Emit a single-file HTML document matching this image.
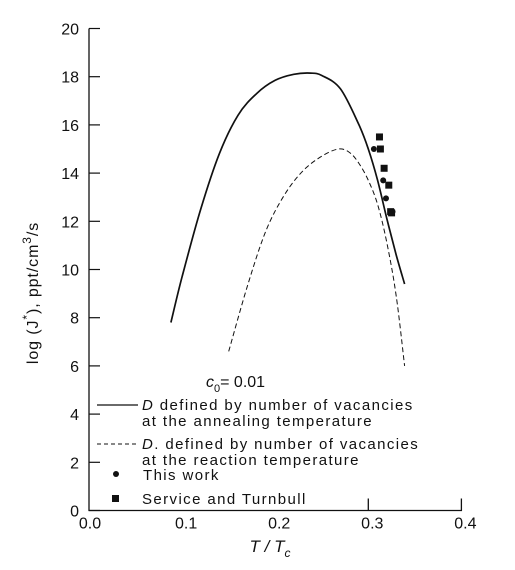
<!DOCTYPE html>
<html><head><meta charset="utf-8"><style>
body{margin:0;background:#fff;}
svg text{font-family:"Liberation Sans",sans-serif;fill:#111;}
</style></head><body>
<svg id="chart" width="515" height="565" viewBox="0 0 515 565" xmlns="http://www.w3.org/2000/svg">
<g id="axes"></g>
<g id="marks"></g>
<text x="206" y="387" font-size="16" font-style="italic">c<tspan font-size="11" dy="5" font-style="normal">0</tspan><tspan dy="-5" font-style="normal">= 0.01</tspan></text>
<g font-size="15" letter-spacing="1.4">
<line x1="97" y1="405" x2="138" y2="405" stroke="#111" stroke-width="1.3"/>
<text x="142" y="410"><tspan font-style="italic">D</tspan> defined by number of vacancies</text>
<text x="142" y="426">at the annealing temperature</text>
<line x1="97" y1="444" x2="138" y2="444" stroke="#111" stroke-width="1" stroke-dasharray="4,3"/>
<text x="142" y="449"><tspan font-style="italic">D</tspan>. defined by number of vacancies</text>
<text x="142" y="465">at the reaction temperature</text>
<circle cx="116" cy="474" r="3" fill="#111"/>
<text x="143" y="480">This work</text>
<rect x="112" y="495" width="7" height="7" fill="#111"/>
<text x="142" y="504">Service and Turnbull</text>
</g>
<text x="270" y="552" font-size="17" font-style="italic" text-anchor="middle">T / T<tspan font-size="12" dy="5">c</tspan></text>
<text transform="translate(38,293) rotate(-90)" font-size="16" letter-spacing="0.9" text-anchor="middle">log (J<tspan font-size="12" dy="-7">*</tspan><tspan dy="7">), ppt/cm</tspan><tspan font-size="12" dy="-7">3</tspan><tspan dy="7">/s</tspan></text>
</svg>
<script>
const yTicks=[0,2,4,6,8,10,12,14,16,18,20];
const xTicks=[0.0,0.1,0.2,0.3,0.4];
const xTickLabels=["0.0","0.1","0.2","0.3","0.4"];
const solidT=[0.088,0.10,0.12,0.14,0.16,0.18,0.20,0.22,0.238,0.25,0.27,0.29,0.30,0.31,0.32,0.33,0.339];
const solidY=[7.8,9.7,12.5,14.8,16.4,17.3,17.85,18.1,18.15,18.05,17.5,16.0,15.0,13.7,12.1,10.6,9.4];
const dashT=[0.150,0.17,0.19,0.21,0.23,0.25,0.268,0.28,0.29,0.30,0.31,0.32,0.33,0.339];
const dashY=[6.6,9.3,11.6,13.1,14.1,14.7,15.0,14.85,14.4,13.7,12.7,11.1,8.9,6.0];
const circT=[0.306,0.316,0.319,0.326];
const circY=[15.0,13.7,12.95,12.4];
const sqT=[0.312,0.313,0.317,0.322,0.324,0.325];
const sqY=[15.5,15.0,14.2,13.5,12.4,12.35];
const X=t=>89+t*931, Y=v=>510.5-v*24.1;
const NS="http://www.w3.org/2000/svg";
const ax=document.getElementById('axes'), mk=document.getElementById('marks');
function mkEl(tag,attrs,parent){const e=document.createElementNS(NS,tag);for(const k in attrs)e.setAttribute(k,attrs[k]);parent.appendChild(e);return e;}
let e=mkEl('path',{d:`M${X(0)},${Y(20)} L${X(0)},${Y(0)} L${X(0.4)},${Y(0)} L${X(0.4)},${Y(0)-12} M${X(0.3)},${Y(0)} L${X(0.3)},${Y(0)-12}`,fill:'none',stroke:'#111','stroke-width':1.3},ax);


yTicks.forEach(v=>{
const tk=mkEl('line',{x1:X(0),x2:X(0)+11,y1:Y(v),y2:Y(v),stroke:'#111','stroke-width':1.2},ax);


const t=mkEl('text',{x:X(0)-10,y:Y(v)+6,'font-size':16,'text-anchor':'end'},ax);t.textContent=v;

});
xTicks.forEach((v,i)=>{const t=mkEl('text',{x:X(v)+(i==0?1:4),y:Y(0)+18,'font-size':16,'text-anchor':'middle'},ax);t.textContent=xTickLabels[i];

});
function pathFrom(ts,ys){
  const p=ts.map((t,i)=>[X(t),Y(ys[i])]);
  let d=`M${p[0][0].toFixed(1)},${p[0][1].toFixed(1)}`;
  for(let i=0;i<p.length-1;i++){
    const p0=p[Math.max(0,i-1)],p1=p[i],p2=p[i+1],p3=p[Math.min(p.length-1,i+2)];
    const c1=[p1[0]+(p2[0]-p0[0])/6,p1[1]+(p2[1]-p0[1])/6];
    const c2=[p2[0]-(p3[0]-p1[0])/6,p2[1]-(p3[1]-p1[1])/6];
    d+=` C${c1[0].toFixed(1)},${c1[1].toFixed(1)} ${c2[0].toFixed(1)},${c2[1].toFixed(1)} ${p2[0].toFixed(1)},${p2[1].toFixed(1)}`;
  }
  return d;}
e=mkEl('path',{d:pathFrom(solidT,solidY),fill:'none',stroke:'#111','stroke-width':1.7,'stroke-linejoin':'round'},mk);


e=mkEl('path',{d:pathFrom(dashT,dashY),fill:'none',stroke:'#111','stroke-width':1,'stroke-dasharray':'5,3'},mk);


circT.forEach((t,i)=>{const c=mkEl('circle',{cx:X(t),cy:Y(circY[i]),r:3,fill:'#111'},mk);

});
sqT.forEach((t,i)=>{const r=mkEl('rect',{x:X(t)-3.5,y:Y(sqY[i])-3.5,width:7,height:7,fill:'#111'},mk);

});
</script>
</body></html>
